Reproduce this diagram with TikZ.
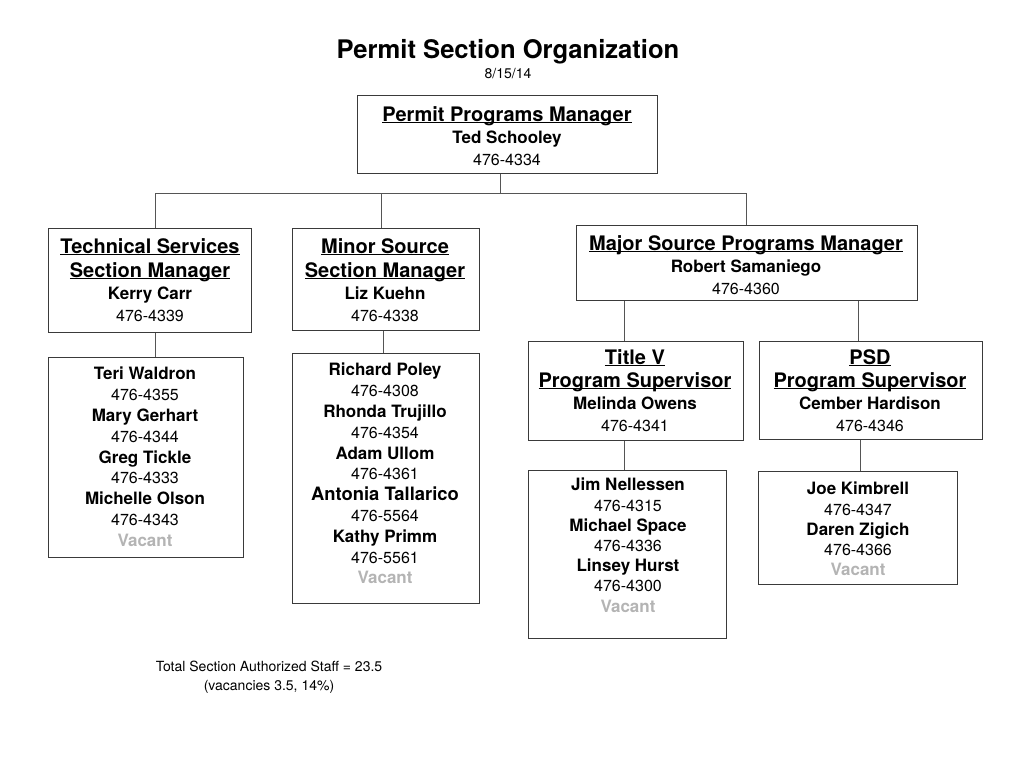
\documentclass[tikz,border=0pt]{standalone}
\usepackage{fontspec}
\setmainfont{TeX Gyre Heros}
\usetikzlibrary{positioning}
\definecolor{boxline}{HTML}{3A3A3A}
\definecolor{wireline}{HTML}{555555}
\definecolor{vacant}{HTML}{B4B4B4}

% Zeilen in den Kaesten
\newcommand{\hd}[1]{{\fontsize{20}{22}\selectfont\bfseries\underline{\raisebox{0pt}[\height][0pt]{#1}}}}
\newcommand{\who}[1]{{\fontsize{17}{22}\selectfont\bfseries #1}}
\newcommand{\vac}{{\fontsize{17}{21}\selectfont\bfseries\color{vacant}Vacant}}

\begin{document}
\begin{tikzpicture}[x=1pt,y=-1pt,
	box/.style={draw=boxline, line width=1pt, anchor=north west, inner sep=0pt},
	txt/.style={anchor=north, inner sep=0pt, align=center, font=\fontsize{16}{22}\selectfont},
	staff/.style={txt, font=\fontsize{16}{20.8}\selectfont},
	staffnarrow/.style={txt, font=\fontsize{16}{20.2}\selectfont},
	wire/.style={draw=wireline, line width=1pt}]
	\useasboundingbox (0,0) rectangle (1023,760);

	% Titel
	\node[anchor=base, font=\fontsize{25.6}{30}\selectfont\bfseries] (title) at (508,59) {Permit Section Organization};
	\node[anchor=base, font=\fontsize{14}{16}\selectfont] (date) at (508,78) {8/15/14};

	% Leitung
	\node[box, minimum width=300, minimum height=78] (ppm) at (357,95) {};
	\node[txt] (ppmT) at (507,106) {\hd{Permit Programs Manager}\\ \who{Ted Schooley}\\ 476-4334};

	% Abteilungen
	\node[box, minimum width=203, minimum height=104] (tech) at (48,228) {};
	\node[txt] (techT) at (150,238) {\hd{Technical Services}\\[2pt] \hd{Section Manager}\\ \who{Kerry Carr}\\ 476-4339};

	\node[box, minimum width=187, minimum height=102] (minor) at (292,228) {};
	\node[txt] (minorT) at (385,238) {\hd{Minor Source}\\[2pt] \hd{Section Manager}\\ \who{Liz Kuehn}\\ 476-4338};

	\node[box, minimum width=341, minimum height=75] (major) at (576,225) {};
	\node[txt] (majorT) at (746,235) {\hd{Major Source Programs Manager}\\ \who{Robert Samaniego}\\ 476-4360};

	\node[box, minimum width=215, minimum height=99] (tv) at (528,341) {};
	\node[txt] (tvT) at (635,349) {\hd{Title V}\\[1pt] \hd{Program Supervisor}\\ \who{Melinda Owens}\\ 476-4341};

	\node[box, minimum width=223, minimum height=98] (psd) at (759,341) {};
	\node[txt] (psdT) at (870,349) {\hd{PSD}\\[1pt] \hd{Program Supervisor}\\ \who{Cember Hardison}\\ 476-4346};

	% Mitarbeiter
	\node[box, minimum width=195, minimum height=200] (techStaff) at (48,357) {};
	\node[staff] (techStaffT) at (145,367) {\who{Teri Waldron}\\ 476-4355\\ \who{Mary Gerhart}\\ 476-4344\\
		\who{Greg Tickle}\\ 476-4333\\ \who{Michelle Olson}\\ 476-4343\\ \vac};

	\node[box, minimum width=187, minimum height=250] (minorStaff) at (292,353) {};
	\node[staff] (minorStaffT) at (385,363) {\who{Richard Poley}\\ 476-4308\\ \who{Rhonda Trujillo}\\ 476-4354\\
		\who{Adam Ullom}\\ 476-4361\\ {\fontsize{18.4}{21}\selectfont\bfseries Antonia Tallarico}\\ 476-5564\\
		\who{Kathy Primm}\\ 476-5561\\ \vac};

	\node[box, minimum width=198, minimum height=168] (tvStaff) at (528,470) {};
	\node[staffnarrow] (tvStaffT) at (628,478) {\who{Jim Nellessen}\\ 476-4315\\ \who{Michael Space}\\ 476-4336\\
		\who{Linsey Hurst}\\ 476-4300\\ \vac};

	\node[box, minimum width=199, minimum height=113] (psdStaff) at (758,471) {};
	\node[staffnarrow] (psdStaffT) at (858,482) {\who{Joe Kimbrell}\\ 476-4347\\ \who{Daren Zigich}\\ 476-4366\\ \vac};

	% Summe
	\node[anchor=north, inner sep=0pt, align=center, font=\fontsize{14}{19}\selectfont] (total) at (269,661)
		{Total Section Authorized Staff = 23.5\\ (vacancies 3.5, 14\%)};

	% Verbindungen
	\coordinate (jTop) at (500,193);
	\coordinate (jL) at (155,193);
	\coordinate (jM) at (381,193);
	\coordinate (jR) at (746,193);
	\draw[wire] (jTop |- ppm.south) -- (jTop);
	\draw[wire] (jL) -- (jR);
	\draw[wire] (jL) -- (jL |- tech.north);
	\draw[wire] (jM) -- (jM |- minor.north);
	\draw[wire] (jR) -- (jR |- major.north);
	\draw[wire] ([xshift=5.5]tech.south) -- ([xshift=5.5]tech.south |- techStaff.north);
	\draw[wire] ([xshift=-2.5]minor.south) -- ([xshift=-2.5]minor.south |- minorStaff.north);
	\draw[wire] ([xshift=-122.5]major.south) -- ([xshift=-122.5]major.south |- tv.north);
	\draw[wire] ([xshift=111.5]major.south) -- ([xshift=111.5]major.south |- psd.north);
	\draw[wire] ([xshift=-11.5]tv.south) -- ([xshift=-11.5]tv.south |- tvStaff.north);
	\draw[wire] ([xshift=-10.5]psd.south) -- ([xshift=-10.5]psd.south |- psdStaff.north);
\end{tikzpicture}
\end{document}
